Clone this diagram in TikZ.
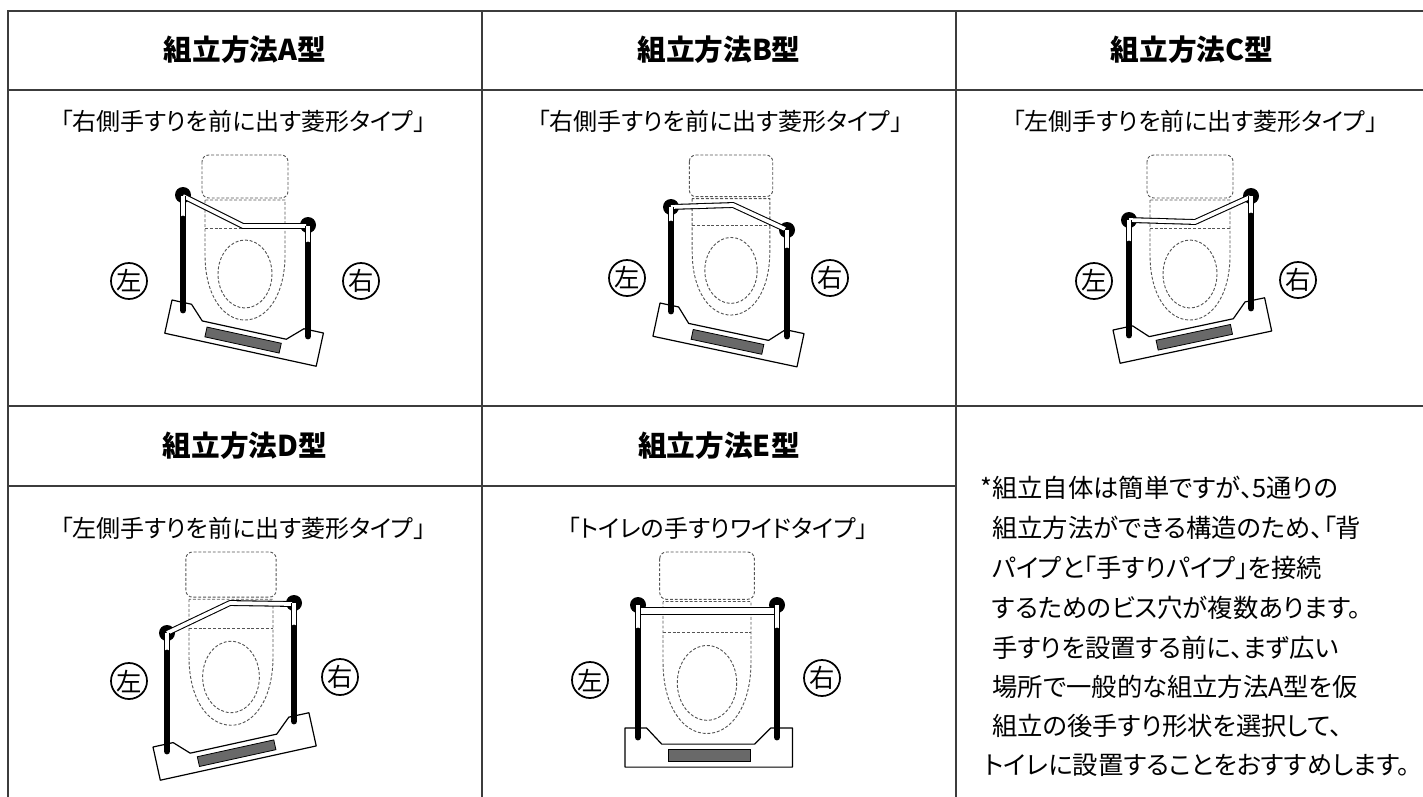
\documentclass[tikz,border=0pt]{standalone}
\usepackage{fontspec}
\setmainfont{Noto Sans CJK JP}[RawFeature=+palt]

\begin{document}
\begin{tikzpicture}[x=0.75pt,y=0.75pt,yscale=-1,xscale=1,
  rule/.style={draw={rgb, 255:red, 60; green, 60; blue, 60 }, line width=1.5pt, line cap=rect},
  head/.style={font=\fontsize{21.5}{25}\selectfont\bfseries},
  sub/.style={font=\fontsize{18}{22}\selectfont},
  note/.style={anchor=west, inner sep=0pt, font=\fontsize{19}{24}\selectfont},
  side/.style={circle, draw, line width=1.3pt, minimum size=27pt, inner sep=0pt, font=\fontsize{19}{19}\selectfont},
  hidden/.style={draw={rgb, 255:red, 85; green, 85; blue, 85 }, line width=0.7pt, dash pattern=on 2.2pt off 1.4pt},
  baseplate/.style={draw=black, fill=white, line width=0.9pt, line join=round},
  grate/.style={draw=black, fill={rgb, 255:red, 105; green, 105; blue, 105 }, line width=0.6pt},
  tube/.style={draw=black, line width=0.8pt, double=white, double distance=2.8pt, line join=round},
  post/.style={draw=black, line width=5.2pt, line cap=round},
  toilet/.pic={
    %tank
    \draw[hidden, rounded corners=5pt] (-43,0) rectangle (43,43);
    %bowl
    \draw[hidden] (-40,73) -- (40,73);
    \draw[hidden] (-40,45) -- (-40,100) .. controls (-40,140) and (-22,165) .. (0,165) .. controls (22,165) and (40,140) .. (40,100) -- (40,45) -- cycle;
    %seat
    \draw[hidden] (0,119) ellipse [x radius=27, y radius=34];
  },
  plate/.pic={
    \draw[baseplate] (0,0) -- (20,0) -- (34,14) -- (120,14) -- (135,0) -- (155,0) -- (155,34) -- (0,34) -- cycle;
    \draw[grate] (40,19) rectangle (116,29);
  }
]
\useasboundingbox (0,0) rectangle (1423,796);

%Table rules
\draw[rule] (8,11) -- (1423,11);
\draw[rule] (8,90) -- (1423,90);
\draw[rule] (8,406) -- (1423,406);
\draw[rule] (8,486) -- (956,486);
\draw[rule] (8,11) -- (8,796);
\draw[rule] (482,11) -- (482,796);
\draw[rule] (956,11) -- (956,796);

%Headings
\node[head] (hA) at (245,50) {組立方法A型};
\node[head] (hB) at (719,50) {組立方法B型};
\node[head] (hC) at (1192,50) {組立方法C型};
\node[head] (hD) at (245,446) {組立方法D型};
\node[head] (hE) at (719,446) {組立方法E型};

\node[sub] (sA) at (243,121) {「右側手すりを前に出す菱形タイプ」};
\node[sub] (sB) at (720,121) {「右側手すりを前に出す菱形タイプ」};
\node[sub] (sC) at (1195,121) {「左側手すりを前に出す菱形タイプ」};
\node[sub] (sD) at (243,528) {「左側手すりを前に出す菱形タイプ」};
\node[sub] (sE) at (718,528) {「トイレの手すりワイドタイプ」};

%Type A
\pic[transform shape] at (245,155) {toilet};
\pic[transform shape,rotate=12.3] at (172,300) {plate};
\fill (183,195) circle [radius=8];
\fill (308,225) circle [radius=8];
\draw[tube] (183,196) -- (243,226) -- (306,226);
\draw[tube] (183,196) -- (183,219);
\draw[tube] (308,226) -- (308,245);
\draw[post] (183,219) -- (183,310);
\draw[post] (308,245) -- (308,336);
\node[side] (lA) at (129,281) {左};
\node[side] (rA) at (361,281) {右};

%Type B
\pic[transform shape,scale=0.97] at (731,155) {toilet};
\pic[transform shape,rotate=12,xscale=0.95] at (660,303) {plate};
\fill (671,207) circle [radius=8];
\fill (787,230) circle [radius=8];
\draw[tube] (671,207) -- (733,205) -- (785,229);
\draw[tube] (671,207) -- (671,224);
\draw[tube] (787,230) -- (787,251);
\draw[post] (671,224) -- (671,311);
\draw[post] (787,251) -- (787,336);
\node[side] (lB) at (627,278) {左};
\node[side] (rB) at (830,278) {右};

%Type C
\pic[transform shape] at (1190,155) {toilet};
\pic[transform shape,rotate=-12] at (1113,330) {plate};
\fill (1129,220) circle [radius=8];
\fill (1251,196) circle [radius=8];
\draw[tube] (1129,220) -- (1195,222) -- (1250,197);
\draw[tube] (1129,220) -- (1129,244);
\draw[tube] (1251,196) -- (1251,216);
\draw[post] (1129,244) -- (1129,335);
\draw[post] (1251,216) -- (1251,308);
\node[side] (lC) at (1094,281) {左};
\node[side] (rC) at (1298,280) {右};

%Type D
\pic[transform shape,scale=1.05] at (231,552) {toilet};
\pic[transform shape,rotate=-12.4,xscale=1.03] at (153,747) {plate};
\fill (167,633) circle [radius=8];
\fill (294,603) circle [radius=8];
\draw[tube] (167,633) -- (230,603) -- (292,604);
\draw[tube] (167,633) -- (167,653);
\draw[tube] (294,603) -- (294,628);
\draw[post] (167,653) -- (167,751);
\draw[post] (294,628) -- (294,721);
\node[side] (lD) at (129,681) {左};
\node[side] (rD) at (340,677) {右};

%Type E
\pic[transform shape,scale=1.1] at (707,552) {toilet};
\pic[transform shape,xscale=1.08,yscale=1.15] at (625,728) {plate};
\fill (638,605) circle [radius=8];
\fill (777,605) circle [radius=8];
\draw[tube, double distance=5pt] (638,611) -- (777,611);
\draw[tube] (638,605) -- (638,631);
\draw[tube] (777,605) -- (777,631);
\draw[post] (638,631) -- (638,737);
\draw[post] (777,631) -- (777,737);
\node[side] (lE) at (590,680) {左};
\node[side] (rE) at (822,678) {右};

%Note
\node[note] (n1) at (992,488) {\llap{*}組立自体は簡単ですが、5通りの};
\node[note] (n2) at (992,528) {組立方法ができる構造のため、「背};
\node[note] (n3) at (992,568) {パイプと「手すりパイプ」を接続};
\node[note] (n4) at (992,608) {するためのビス穴が複数あります。};
\node[note] (n5) at (992,648) {手すりを設置する前に、まず広い};
\node[note] (n6) at (992,687) {場所で一般的な組立方法A型を仮};
\node[note] (n7) at (992,726) {組立の後手すり形状を選択して、};
\node[note] (n8) at (984,765) {トイレに設置することをおすすめします。};

\end{tikzpicture}
\end{document}
